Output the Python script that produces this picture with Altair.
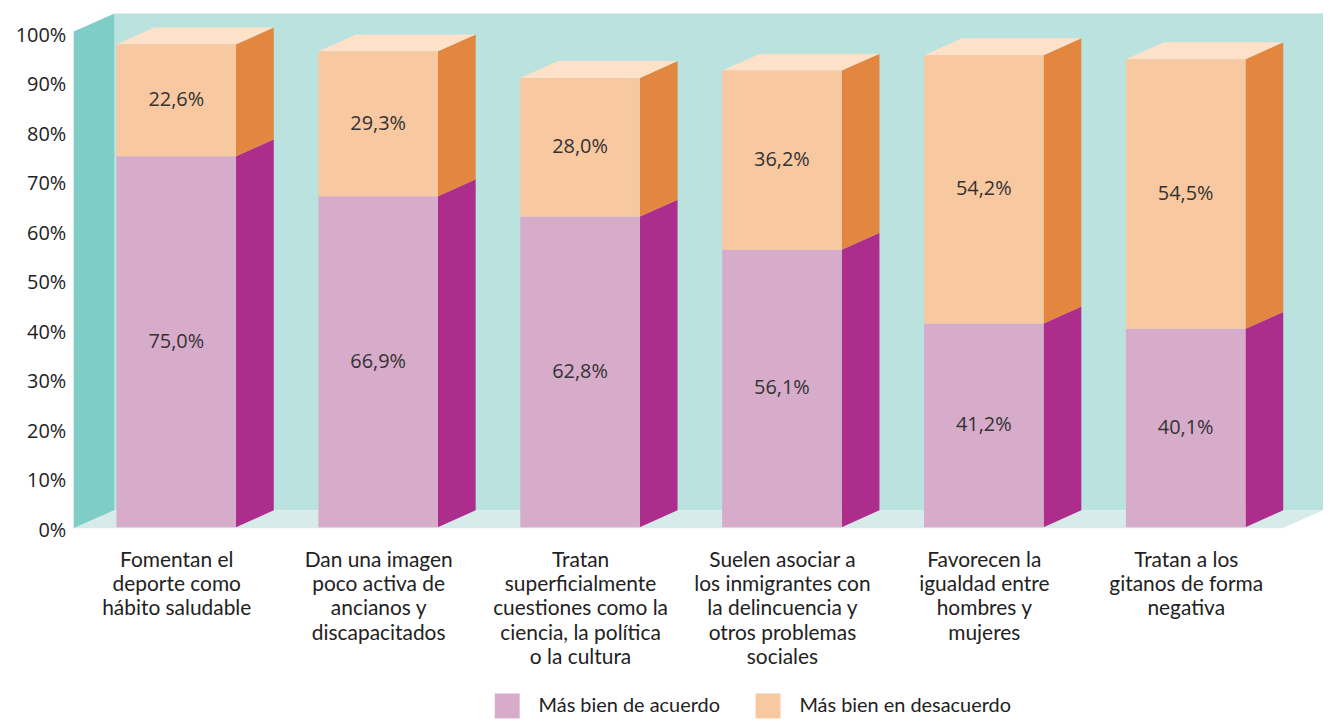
import json
import altair as alt
import pandas as pd

# ---------------- data ----------------
categories = [
    ["Fomentan el", "deporte como", "hábito saludable"],
    ["Dan una imagen", "poco activa de", "ancianos y", "discapacitados"],
    ["Tratan", "superficialmente", "cuestiones como la", "ciencia, la política", "o la cultura"],
    ["Suelen asociar a", "los inmigrantes con", "la delincuencia y", "otros problemas", "sociales"],
    ["Favorecen la", "igualdad entre", "hombres y", "mujeres"],
    ["Tratan a los", "gitanos de forma", "negativa"],
]
acuerdo = [75.0, 66.9, 62.8, 56.1, 41.2, 40.1]
desacuerdo = [22.6, 29.3, 28.0, 36.2, 54.2, 54.5]
series = ["Más bien de acuerdo", "Más bien en desacuerdo"]
y_ticks = [0, 10, 20, 30, 40, 50, 60, 70, 80, 90, 100]

# ---------------- style / layout ----------------
FONT = "Lato"
NUM_FONT = "Open Sans"
PINK, PINK_SIDE = "#d7abca", "#ad2d8d"
PEACH, ORANGE_SIDE = "#f8c8a0", "#e3863f"
TOP = "#fde1c9"
BACK, LEFT, FLOOR = "#bae2de", "#7ecdc7", "#d6ebea"

HALF = 0.296      # half front width (category units)
DX, DY = 0.187, 3.42     # bar depth
WDX, WDY = 0.202, 3.62   # wall depth
X_DOM = [-0.508, 5.680]
Y_DOM = [-0.2, 103.82]

front_fill = [PINK, PEACH]
side_fill = [PINK_SIDE, ORANGE_SIDE]

front, sides, tops = [], [], []
for i in range(len(categories)):
    base = 0.0
    for k, vals in enumerate([acuerdo, desacuerdo]):
        v = vals[i]
        top = base + v
        front.append(dict(x=i - HALF, x2=i + HALF, y=base, y2=top, serie=series[k],
                          xc=i, ymid=base + v / 2,
                          label=f"{v:.1f}".replace(".", ",") + "%"))
        g = f"s{i}_{k}"
        sides.append(dict(g=g, fill=side_fill[k], x=i + HALF, y=base, y2=top))
        sides.append(dict(g=g, fill=side_fill[k], x=i + HALF + DX, y=base + DY, y2=top + DY))
        base = top
    T = base
    g = f"t{i}"
    for xx, a, b in [(i - HALF, T, T), (i - HALF + DX, T, T + DY),
                     (i + HALF, T, T + DY), (i + HALF + DX, T + DY, T + DY)]:
        tops.append(dict(g=g, x=xx, y=a, y2=b))

x0, x1 = X_DOM
y0, y1 = Y_DOM
walls = [
    dict(g="back", fill=BACK, x=x0 + WDX, y=y0 + WDY, y2=y1),
    dict(g="back", fill=BACK, x=x1, y=y0 + WDY, y2=y1),
    dict(g="left", fill=LEFT, x=x0, y=y0, y2=y1 - WDY),
    dict(g="left", fill=LEFT, x=x0 + WDX, y=y0 + WDY, y2=y1),
    dict(g="floor", fill=FLOOR, x=x0, y=y0, y2=y0),
    dict(g="floor", fill=FLOOR, x=x0 + WDX, y=y0, y2=y0 + WDY),
    dict(g="floor", fill=FLOOR, x=x1 - WDX, y=y0, y2=y0 + WDY),
    dict(g="floor", fill=FLOOR, x=x1, y=y0 + WDY, y2=y0 + WDY),
]

df_front = pd.DataFrame(front)
df_sides = pd.DataFrame(sides)
df_tops = pd.DataFrame(tops)
df_walls = pd.DataFrame(walls)

xs = alt.Scale(domain=X_DOM, nice=False, zero=False)
ys = alt.Scale(domain=Y_DOM, nice=False, zero=False)

label_expr = json.dumps(categories, ensure_ascii=False) + "[datum.value]"

x_axis = alt.Axis(values=list(range(len(categories))), labelExpr=label_expr, title=None,
                  domain=False, ticks=False, grid=False, labelAngle=0, labelAlign="center",
                  labelBaseline="top", labelPadding=21, labelFont=FONT, labelFontSize=21,
                  labelColor="#222222", labelLineHeight=24.5, labelOverlap=False,
                  labelBound=False, labelFlush=False, labelLimit=400)
y_axis = alt.Axis(values=y_ticks, labelExpr="datum.value + '%'", title=None,
                  domain=False, ticks=False, grid=False, labelPadding=8,
                  labelFont=NUM_FONT, labelFontSize=20, labelColor="#222222",
                  labelOffset=3, labelOverlap=False, labelBound=False, labelFlush=False)


def X(field):
    return alt.X(f"{field}:Q", scale=xs, axis=x_axis, title=None)


def Y(field):
    return alt.Y(f"{field}:Q", scale=ys, axis=y_axis, title=None, stack=None)


walls_layer = alt.Chart(df_walls).mark_area(orient="vertical").encode(
    x=X("x"), y=Y("y"), y2="y2:Q", detail="g:N",
    fill=alt.Fill("fill:N", scale=None),
)

sides_layer = alt.Chart(df_sides).mark_area(orient="vertical").encode(
    x=X("x"), y=Y("y"), y2="y2:Q", detail="g:N",
    fill=alt.Fill("fill:N", scale=None),
)

tops_layer = alt.Chart(df_tops).mark_area(orient="vertical", color=TOP).encode(
    x=X("x"), y=Y("y"), y2="y2:Q", detail="g:N",
)

front_layer = alt.Chart(df_front).mark_rect().encode(
    x=X("x"), x2="x2:Q", y=Y("y"), y2="y2:Q",
    color=alt.Color("serie:N",
                    scale=alt.Scale(domain=series, range=front_fill),
                    legend=alt.Legend(orient="none", legendX=423, legendY=683,
                                      direction="horizontal", title=None,
                                      symbolType="square", symbolSize=625,
                                      symbolStrokeWidth=0, symbolOpacity=1,
                                      labelFont=FONT, labelFontSize=20,
                                      labelColor="#222222", labelOffset=19,
                                      columnPadding=35, padding=0, labelLimit=400)),
)

text_layer = alt.Chart(df_front).mark_text(font=NUM_FONT, fontSize=20, color="#333333",
                                           align="center", baseline="middle").encode(
    x=X("xc"), y=Y("ymid"), text="label:N",
)

chart = alt.layer(walls_layer, sides_layer, tops_layer, front_layer, text_layer).properties(
    width=1255, height=517,
    padding={"left": 66, "top": 4, "right": 0, "bottom": 190},
    autosize=alt.AutoSizeParams(type="none"),
    background="white",
).configure_view(strokeWidth=0)

chart.save("out.html", embed_options={"renderer": "svg", "actions": False})
